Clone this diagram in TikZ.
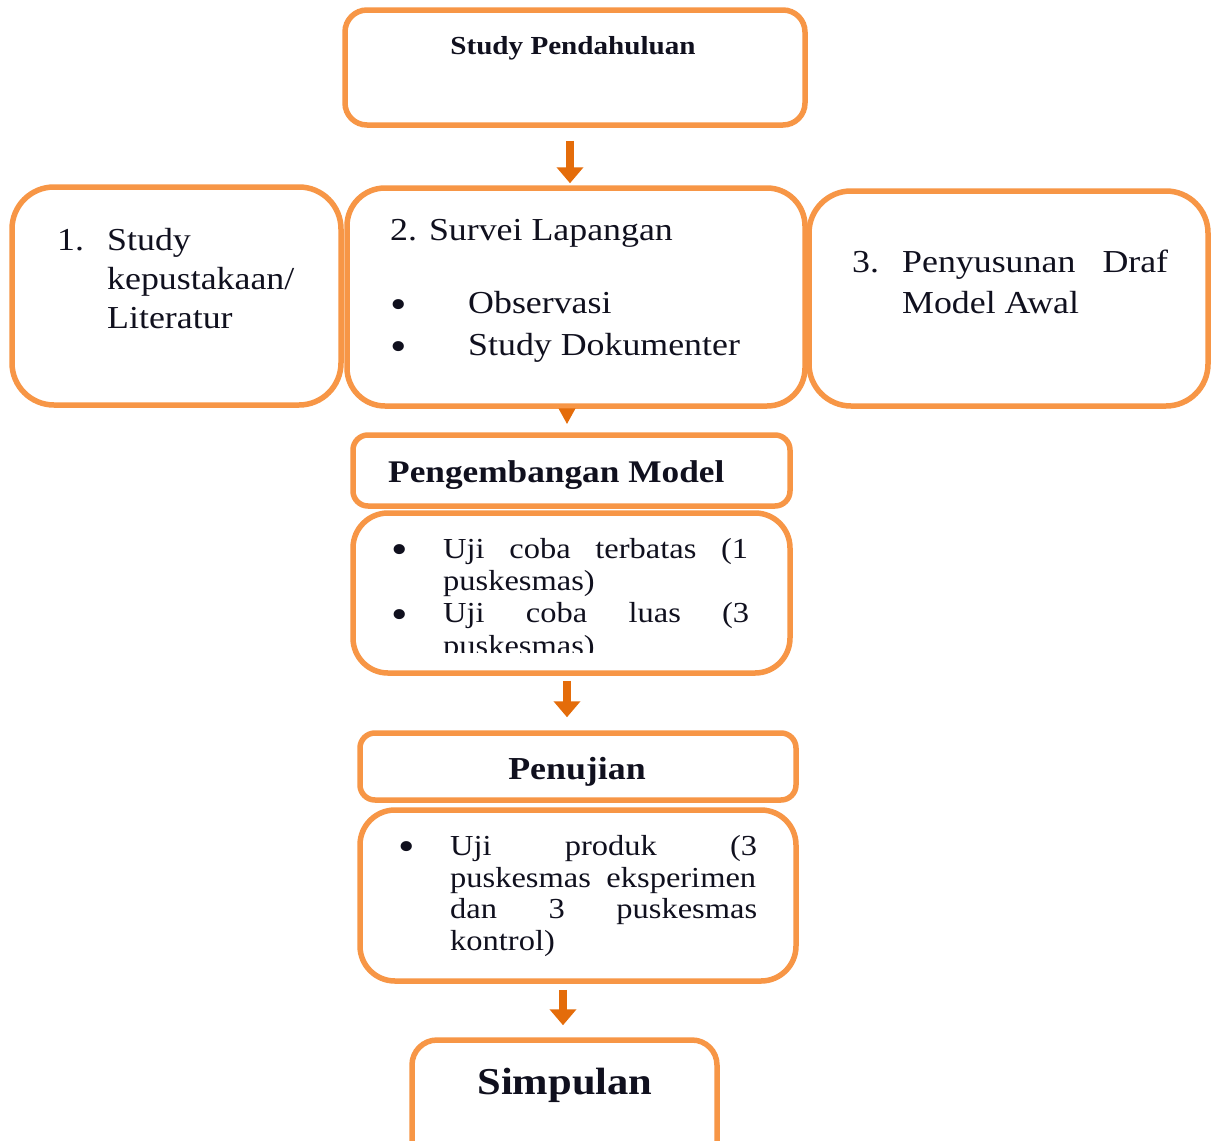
\documentclass[tikz,border=0pt]{standalone}
\usepackage{fontspec}
\setmainfont{Liberation Serif}[FakeStretch=1.12]
\usetikzlibrary{arrows.meta}
\definecolor{boxor}{HTML}{F79646}
\definecolor{arror}{HTML}{E46C0A}
\definecolor{txt}{HTML}{10101E}
\newcommand{\fsTop}{\fontsize{26}{30}\bfseries\selectfont}
\newcommand{\fsBig}{\fontsize{32}{39}\selectfont}
\newcommand{\fsMid}{\fontsize{29}{32}\selectfont}
\newcommand{\fsBul}{\fontsize{42}{42}\selectfont}
\newcommand{\fsHead}{\fontsize{31.5}{34}\bfseries\selectfont}
\newcommand{\fsPen}{\fontsize{32}{36}\bfseries\selectfont}
\newcommand{\fsSim}{\fontsize{38}{42}\bfseries\selectfont}
\begin{document}
\begin{tikzpicture}[x=1pt,y=-1pt,
  box/.style={draw=boxor, line width=5.5pt, fill=white, inner sep=0pt},
  arr/.style={draw=arror, line width=8pt, -{Triangle[width=26pt,length=16pt]}},
  arrsmall/.style={draw=arror, line width=8pt, -{Triangle[width=16pt,length=16pt]}},
  t/.style={anchor=base west, inner sep=0pt, text=txt},
  tc/.style={anchor=base, inner sep=0pt, text=txt},
  bul/.style={anchor=center, inner sep=0pt, text=txt, font=\fsBul},
]
\clip (0,0) rectangle (1211,1141);
\fill[white] (0,0) rectangle (1211,1141);

% boxes
\node[box, rounded corners=22pt, minimum width=460pt, minimum height=115pt] (top) at (575,67.5) {};
\node[box, rounded corners=42pt, minimum width=329pt, minimum height=218pt] (b1) at (176.5,296) {};
\node[box, rounded corners=38pt, minimum width=458pt, minimum height=218pt] (b2) at (576,297) {};
\node[box, rounded corners=42pt, minimum width=399pt, minimum height=215pt] (b3) at (1008.5,298.5) {};
\node[box, rounded corners=15pt, minimum width=437pt, minimum height=71pt] (pm) at (571.5,470.5) {};
\node[box, rounded corners=35pt, minimum width=437pt, minimum height=160pt] (uc) at (571.5,593) {};
\node[box, rounded corners=15pt, minimum width=436pt, minimum height=67pt] (pj) at (578,766.5) {};
\node[box, rounded corners=35pt, minimum width=436pt, minimum height=171pt] (up) at (578,895.5) {};
\node[box, rounded corners=25pt, minimum width=305pt, minimum height=130pt] (sp) at (564.5,1105) {};

% arrow x positions
\coordinate (ax1) at (570,0);
\coordinate (ax2) at (567,0);
\coordinate (ax3) at (567,0);
\coordinate (ax4) at (563,0);

\draw[arr, shorten <=13pt, shorten >=2pt] (top.south -| ax1) -- (b2.north -| ax1);
\draw[arrsmall, shorten <=3pt, shorten >=8pt] (b2.south -| ax2) -- (pm.north -| ax2);
\draw[arr, shorten <=5pt, shorten >=13pt] (uc.south -| ax3) -- (pj.north -| ax3);
\draw[arr, shorten <=6pt, shorten >=12pt] (up.south -| ax4) -- (sp.north -| ax4);

% top text
\node[tc, font=\fsTop] (ttop) at (573,54) {Study Pendahuluan};

% box 1
\node[t, font=\fsBig] (n1) at (57,250) {1.};
\node[t, font=\fsBig] (b1a) at (107,250) {Study};
\node[t, font=\fsBig] (b1b) at (107,289) {kepustakaan/};
\node[t, font=\fsBig] (b1c) at (107,328) {Literatur};

% box 2
\node[t, font=\fsBig] (b2a) at (390,240) {2. Survei Lapangan};
\node[bul] (bu1) at (399,309) {•};
\node[t, font=\fsBig] (b2b) at (468,313) {Observasi};
\node[bul] (bu2) at (399,351) {•};
\node[t, font=\fsBig] (b2c) at (468,355) {Study Dokumenter};

% box 3
\node[t, font=\fsBig] (n3) at (852,272) {3.};
\node[t, font=\fsBig] (b3a) at (902,272) {\makebox[266pt][s]{Penyusunan Draf}};
\node[t, font=\fsBig] (b3b) at (902,313) {Model Awal};

% pengembangan
\node[t, font=\fsHead] (pmt) at (388,482) {Pengembangan Model};

% uji coba
\begin{scope}
\clip (353,513) rectangle (790,652);
\node[bul] (bu3) at (400,554) {•};
\node[t, font=\fsMid] (uc1) at (443,558) {\makebox[305pt][s]{Uji coba terbatas (1}};
\node[t, font=\fsMid] (uc2) at (443,590) {puskesmas)};
\node[bul] (bu4) at (400,619) {•};
\node[t, font=\fsMid] (uc3) at (443,622) {\makebox[306pt][s]{Uji coba luas (3}};
\node[t, font=\fsMid] (uc4) at (443,655) {puskesmas)};
\end{scope}

% penujian
\node[tc, font=\fsPen] (pjt) at (577,779) {Penujian};

% uji produk
\node[bul] (bu5) at (407,851) {•};
\node[t, font=\fsMid] (up1) at (450,855) {\makebox[307pt][s]{Uji produk (3}};
\node[t, font=\fsMid] (up2) at (450,887) {\makebox[306pt][s]{puskesmas eksperimen}};
\node[t, font=\fsMid] (up3) at (450,918) {\makebox[307pt][s]{dan 3 puskesmas}};
\node[t, font=\fsMid] (up4) at (450,950) {kontrol)};

% simpulan
\node[tc, font=\fsSim] (spt) at (565,1094) {Simpulan};
\end{tikzpicture}
\end{document}
